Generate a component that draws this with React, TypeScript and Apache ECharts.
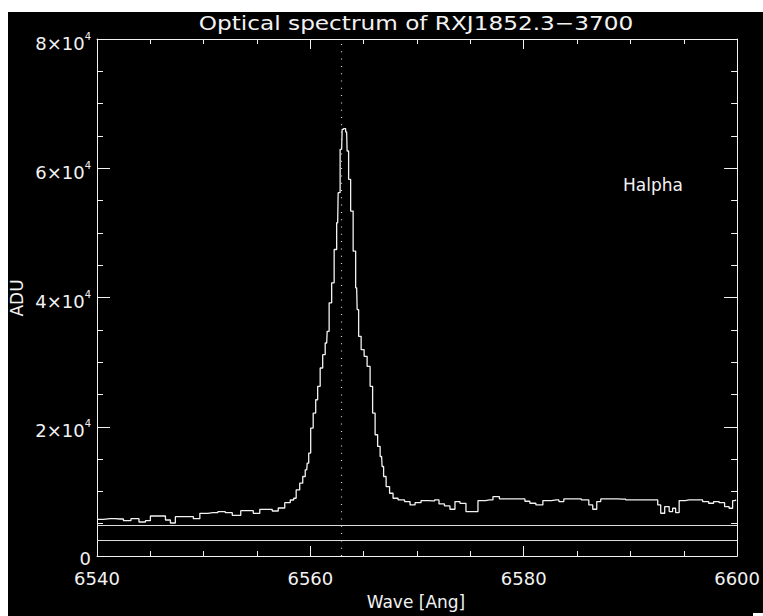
import React, { useEffect, useRef } from 'react';
import * as echarts from 'echarts';

// Wavelength samples [Angstrom] and flux [ADU]
const WAVE = [
  6540.0, 6541.22, 6542.15, 6542.81, 6543.56, 6544.31, 6544.77, 6545.24, 6546.18, 6546.65,
  6547.11, 6547.58, 6548.71, 6549.36, 6549.92, 6550.86, 6551.79, 6552.26, 6553.1, 6553.85,
  6554.32, 6554.98, 6555.54, 6556.19, 6556.66, 6557.32, 6557.88, 6558.35, 6558.53, 6558.81,
  6559.19, 6559.38, 6559.66, 6559.75, 6559.94, 6560.12, 6560.41, 6560.59, 6560.78, 6561.06,
  6561.25, 6561.53, 6561.62, 6561.9, 6562.09, 6562.37, 6562.56, 6562.65, 6562.93, 6563.03,
  6563.21, 6563.4, 6563.49, 6563.68, 6563.87, 6564.15, 6564.34, 6564.43, 6564.62, 6564.9,
  6565.18, 6565.46, 6565.74, 6565.93, 6566.21, 6566.4, 6566.68, 6566.77, 6566.96, 6567.24,
  6567.61, 6567.89, 6568.55, 6569.11, 6569.58, 6570.05, 6570.7, 6571.45, 6571.83, 6572.29,
  6572.85, 6573.32, 6573.79, 6574.26, 6574.91, 6575.38, 6576.04, 6576.79, 6577.44, 6578.0,
  6578.94, 6579.88, 6580.34, 6580.81, 6581.47, 6582.12, 6583.06, 6583.53, 6583.99, 6584.93,
  6585.87, 6586.33, 6586.61, 6587.08, 6587.36, 6588.3, 6589.24, 6589.89, 6590.55, 6591.48,
  6592.42, 6592.7, 6592.98, 6593.45, 6593.82, 6594.1, 6594.38, 6594.76, 6595.51, 6596.44,
  6597.1, 6597.57, 6598.03, 6598.6, 6599.06, 6599.44, 6599.72, 6599.91,
];
const FLUX = [
  5680, 5770, 5725, 5460, 5770, 5260, 5460, 6190, 6190, 5570,
  5105, 6080, 6080, 5770, 6605, 6700, 6855, 6700, 6300, 7010,
  7010, 6605, 7225, 7225, 6965, 7430, 8250, 8665, 8940, 10230,
  11270, 12300, 13330, 14370, 15920, 19800, 22120, 24180, 26250, 29090,
  31150, 32960, 34770, 39170, 42270, 47430, 51570, 56220, 62930, 66030,
  66140, 65620, 62670, 58280, 53370, 47170, 41500, 38130, 34000, 31930,
  30890, 29340, 26250, 22120, 18760, 16950, 15400, 13850, 12300, 10750,
  9710, 8940, 8680, 8415, 7905, 8250, 8575, 8525, 8680, 8060,
  7750, 7235, 8415, 8150, 6870, 6870, 8575, 8680, 9195, 8835,
  8835, 8835, 8470, 8165, 7905, 8575, 8680, 8425, 8835, 8835,
  8680, 7905, 7235, 8415, 8835, 8835, 8790, 8680, 8680, 8680,
  8680, 7905, 6615, 7645, 6870, 7385, 6715, 8575, 8680, 8680,
  8425, 8165, 8425, 8250, 7645, 7385, 8575, 8680,
];
const LEVEL_LINES = [4690, 2370];
const HALPHA_WAVE = 6562.9;
const X_MIN = 6540;
const X_MAX = 6600;
const X_STEP = 20;
const Y_MIN = 0;
const Y_MAX = 80000;
const Y_STEP = 20000;
const TITLE = 'Optical spectrum of RXJ1852.3\u22123700';
const X_NAME = 'Wave [Ang]';
const Y_NAME = 'ADU';
const LINE_LABEL = 'Halpha';

const FONT = 'DejaVu Sans';
const FG = '#f2f2f2';

export default function App() {
  const ref = useRef<HTMLDivElement>(null);

  useEffect(() => {
    if (!ref.current) return;
    const chart = echarts.init(ref.current, undefined, { renderer: 'svg' });

    const axisCommon = (tickLen: number, minorLen: number) => ({
      type: 'value' as const,
      axisLine: { show: true, onZero: false, lineStyle: { color: FG, width: 1 } },
      axisTick: { show: true, inside: true, length: tickLen, lineStyle: { color: FG, width: 1 } },
      minorTick: { show: true, splitNumber: 4, length: minorLen, lineStyle: { color: FG, width: 1 } },
      splitLine: { show: false },
      minorSplitLine: { show: false },
    });

    const option: any = {
      animation: false,
      backgroundColor: '#000',
      grid: { left: 89, top: 27, right: 25, bottom: 60, containLabel: false },
      xAxis: [
        {
          ...axisCommon(10, 5),
          min: X_MIN,
          max: X_MAX,
          interval: X_STEP,
          position: 'bottom',
          axisLabel: {
            show: true,
            color: FG,
            fontFamily: FONT,
            fontSize: 18,
            margin: 13,
            showMinLabel: true,
            showMaxLabel: true,
            formatter: (v: number) => String(v),
          },
        },
        {
          ...axisCommon(10, 5),
          min: X_MIN,
          max: X_MAX,
          interval: X_STEP,
          position: 'top',
          axisLabel: { show: false },
        },
      ],
      yAxis: [
        {
          ...axisCommon(13, 6),
          min: Y_MIN,
          max: Y_MAX,
          interval: Y_STEP,
          position: 'left',
          axisLabel: {
            show: true,
            color: FG,
            fontFamily: FONT,
            fontSize: 18,
            margin: 6,
            padding: [5, 0, 0, 0],
            formatter: (v: number) => (v === 0 ? '0' : `{a|${v / 10000}\u00d710}{b|4}`),
            rich: {
              a: { color: FG, fontFamily: FONT, fontSize: 18, padding: [3, 0, 0, 0] },
              b: { color: FG, fontFamily: FONT, fontSize: 10, verticalAlign: 'top' },
            },
          },
        },
        {
          ...axisCommon(13, 6),
          min: Y_MIN,
          max: Y_MAX,
          interval: Y_STEP,
          position: 'right',
          axisLabel: { show: false },
        },
      ],
      series: [
        {
          type: 'line',
          xAxisIndex: 0,
          yAxisIndex: 0,
          step: 'middle',
          symbol: 'none',
          data: WAVE.map((w, i) => [w, FLUX[i]]),
          lineStyle: { color: FG, width: 1.3 },
          markLine: {
            silent: true,
            symbol: ['none', 'none'],
            label: { show: false },
            data: [
              { xAxis: HALPHA_WAVE, lineStyle: { color: '#d8d8d8', width: 1.2, type: [1, 6.3] } },
              ...LEVEL_LINES.map((v) => ({ yAxis: v, lineStyle: { color: '#dcdcdc', width: 1, type: 'solid' } })),
            ],
          },
        },
      ],
      graphic: [
        {
          type: 'text',
          x: 408,
          y: 11,
          scaleX: 1.16,
          style: { text: TITLE, fill: FG, font: `20px "${FONT}"`, textAlign: 'center', textVerticalAlign: 'middle' },
        },
        {
          type: 'text',
          x: 408,
          y: 590,
          style: { text: X_NAME, fill: FG, font: `17px "${FONT}"`, textAlign: 'center', textVerticalAlign: 'middle' },
        },
        {
          type: 'text',
          x: 9,
          y: 286,
          rotation: Math.PI / 2,
          style: { text: Y_NAME, fill: FG, font: `17px "${FONT}"`, textAlign: 'center', textVerticalAlign: 'middle' },
        },
        {
          type: 'text',
          x: 615,
          y: 173,
          style: { text: LINE_LABEL, fill: FG, font: `17px "${FONT}"`, textAlign: 'left', textVerticalAlign: 'middle' },
        },
        {
          type: 'rect',
          shape: { x: 745, y: 601, width: 10, height: 3 },
          style: { fill: '#fff' },
        },
      ],
    };

    chart.setOption(option);
    return () => chart.dispose();
  }, []);

  return (
    <div
      ref={ref}
      style={{ position: 'fixed', left: 8, top: 12, width: 755, height: 604, background: '#000' }}
    />
  );
}
